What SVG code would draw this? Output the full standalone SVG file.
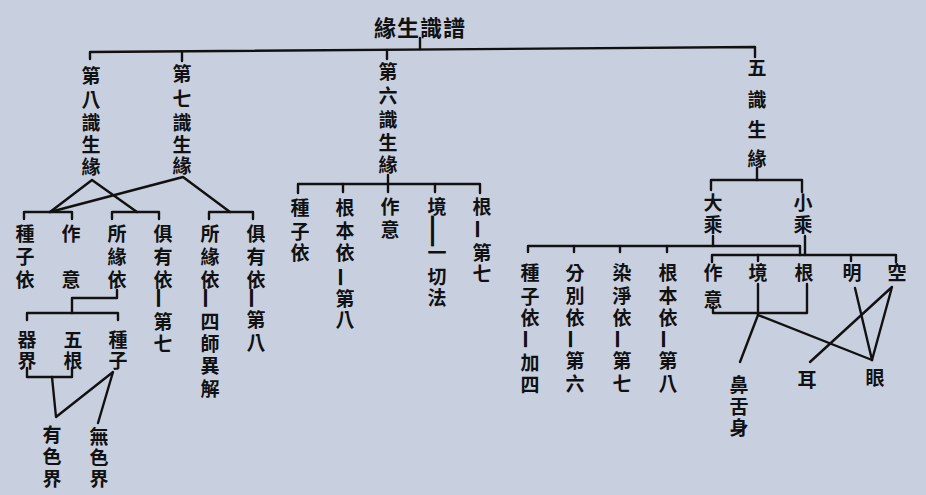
<svg xmlns="http://www.w3.org/2000/svg" width="926" height="495" viewBox="0 0 926 495">
<style>
text{font-family:"Noto Sans CJK TC","Noto Sans CJK SC",sans-serif;font-weight:700;fill:#111;}
.t{font-size:19px;text-anchor:middle;dominant-baseline:central;}
.title{font-size:22px;text-anchor:middle;dominant-baseline:central;letter-spacing:1px;}
.d{font-size:20px;text-anchor:middle;dominant-baseline:central;}
#connectors path{fill:none;stroke:#111;stroke-width:2.4;stroke-linejoin:round;stroke-linecap:round;}
</style>
<rect width="926" height="495" fill="#c8d0e0"/>
<g id="connectors">
<path d="M420 38 L420 49"/>
<path d="M90 59 L90 52 L755 47 L755 57"/>
<path d="M182 52 L182 61"/>
<path d="M387 50 L387 59"/>
<path d="M92 180 L50 212 M92 180 L137 212"/>
<path d="M183 177 L50 212 M183 177 L230 212"/>
<path d="M24 219 L24 212 L72 212 L72 219"/>
<path d="M112 219 L112 212 L159 212 L159 219"/>
<path d="M209 219 L209 212 L253 212 L253 219"/>
<path d="M117 290 L117 298 L72 298 L72 313"/>
<path d="M27 320 L27 313 L118 313 L118 320"/>
<path d="M27 368 L27 377 L72 377 L72 368"/>
<path d="M52 377 L56 417 L113 372 L98 423"/>
<path d="M388 175 L388 192"/>
<path d="M298 193 L298 184 L480 184 L480 193"/>
<path d="M343 184 L343 192 M435 184 L435 192"/>
<path d="M757 168 L757 180"/>
<path d="M711 190 L711 180 L802 180 L802 192"/>
<path d="M713 236 L713 246"/>
<path d="M528 252 L528 246 L800 246 L800 255"/>
<path d="M574 246 L574 252 M620 246 L620 252 M667 246 L667 252"/>
<path d="M805 236 L805 255"/>
<path d="M712 262 L712 255 L896 255 L896 262"/>
<path d="M758 255 L758 261 M851 255 L851 261"/>
<path d="M713 307 L713 313 L807 313 L807 284"/>
<path d="M758 284 L758 315"/>
<path d="M758 315 L740 362 M758 315 L872 360"/>
<path d="M855 288 L872 360"/>
<path d="M892 287 L810 362 M892 287 L872 360"/>
</g>
<g id="title"><text class="title" x="420" y="26">緣生識譜</text></g>
<g id="n8"><text class="t"><tspan x="91" y="74">第</tspan><tspan x="91" y="98">八</tspan><tspan x="91" y="121">識</tspan><tspan x="91" y="143">生</tspan><tspan x="91" y="165">緣</tspan></text></g>
<g id="n7"><text class="t"><tspan x="182" y="72">第</tspan><tspan x="182" y="97">七</tspan><tspan x="182" y="121">識</tspan><tspan x="182" y="143">生</tspan><tspan x="182" y="164">緣</tspan></text></g>
<g id="n6"><text class="t"><tspan x="388" y="70">第</tspan><tspan x="388" y="94">六</tspan><tspan x="388" y="118">識</tspan><tspan x="388" y="141">生</tspan><tspan x="388" y="163">緣</tspan></text></g>
<g id="n5"><text class="t"><tspan x="757" y="66">五</tspan><tspan x="757" y="98">識</tspan><tspan x="757" y="128">生</tspan><tspan x="757" y="157">緣</tspan></text></g>
<g id="a1"><text class="t"><tspan x="25" y="232">種</tspan><tspan x="25" y="255">子</tspan><tspan x="25" y="278">依</tspan></text></g>
<g id="a2"><text class="t"><tspan x="71" y="232">作</tspan><tspan x="71" y="278">意</tspan></text></g>
<g id="a3"><text class="t"><tspan x="117" y="232">所</tspan><tspan x="117" y="255">緣</tspan><tspan x="117" y="278">依</tspan></text></g>
<g id="a4"><text class="t"><tspan x="163" y="232">俱</tspan><tspan x="163" y="255">有</tspan><tspan x="163" y="278">依</tspan><tspan x="163" y="320">第</tspan><tspan x="163" y="342">七</tspan></text><text class="d" transform="translate(163,298) rotate(90) scale(1.1,1.6)">—</text></g>
<g id="a5"><text class="t"><tspan x="210" y="232">所</tspan><tspan x="210" y="255">緣</tspan><tspan x="210" y="278">依</tspan><tspan x="210" y="320">四</tspan><tspan x="210" y="342">師</tspan><tspan x="210" y="364">異</tspan><tspan x="210" y="387">解</tspan></text><text class="d" transform="translate(210,298) rotate(90) scale(1.1,1.6)">—</text></g>
<g id="a6"><text class="t"><tspan x="256" y="232">俱</tspan><tspan x="256" y="255">有</tspan><tspan x="256" y="278">依</tspan><tspan x="256" y="318">第</tspan><tspan x="256" y="341">八</tspan></text><text class="d" transform="translate(256,298) rotate(90) scale(1.1,1.6)">—</text></g>
<g id="b1"><text class="t"><tspan x="27" y="338">器</tspan><tspan x="27" y="359">界</tspan></text></g>
<g id="b2"><text class="t"><tspan x="73" y="338">五</tspan><tspan x="73" y="359">根</tspan></text></g>
<g id="b3"><text class="t"><tspan x="118" y="338">種</tspan><tspan x="118" y="359">子</tspan></text></g>
<g id="c1"><text class="t"><tspan x="52" y="433">有</tspan><tspan x="52" y="455">色</tspan><tspan x="52" y="477">界</tspan></text></g>
<g id="c2"><text class="t"><tspan x="99" y="435">無</tspan><tspan x="99" y="456">色</tspan><tspan x="99" y="477">界</tspan></text></g>
<g id="s1"><text class="t"><tspan x="300" y="206">種</tspan><tspan x="300" y="230">子</tspan><tspan x="300" y="251">依</tspan></text></g>
<g id="s2"><text class="t"><tspan x="345" y="206">根</tspan><tspan x="345" y="229">本</tspan><tspan x="345" y="251">依</tspan><tspan x="345" y="297">第</tspan><tspan x="345" y="318">八</tspan></text><text class="d" transform="translate(345,277) rotate(90) scale(1.0,1.6)">—</text></g>
<g id="s3"><text class="t"><tspan x="390" y="205">作</tspan><tspan x="390" y="228">意</tspan></text></g>
<g id="s4"><text class="t"><tspan x="437" y="205">境</tspan><tspan x="437" y="251">一</tspan><tspan x="437" y="275">切</tspan><tspan x="437" y="296">法</tspan></text><text class="d" transform="translate(437,231) rotate(90) scale(1.9,1.6)">—</text></g>
<g id="s5"><text class="t"><tspan x="482" y="205">根</tspan><tspan x="482" y="251">第</tspan><tspan x="482" y="272">七</tspan></text><text class="d" transform="translate(482,229) rotate(90) scale(1.0,1.6)">—</text></g>
<g id="m1"><text class="t"><tspan x="713" y="201">大</tspan><tspan x="713" y="223">乘</tspan></text></g>
<g id="m2"><text class="t"><tspan x="803" y="201">小</tspan><tspan x="803" y="223">乘</tspan></text></g>
<g id="f1"><text class="t"><tspan x="530" y="271">種</tspan><tspan x="530" y="295">子</tspan><tspan x="530" y="316">依</tspan><tspan x="530" y="361">加</tspan><tspan x="530" y="383">四</tspan></text><text class="d" transform="translate(530,339) rotate(90) scale(1.0,1.6)">—</text></g>
<g id="f2"><text class="t"><tspan x="575" y="271">分</tspan><tspan x="575" y="294">別</tspan><tspan x="575" y="316">依</tspan><tspan x="575" y="359">第</tspan><tspan x="575" y="382">六</tspan></text><text class="d" transform="translate(575,339) rotate(90) scale(1.0,1.6)">—</text></g>
<g id="f3"><text class="t"><tspan x="622" y="271">染</tspan><tspan x="622" y="294">淨</tspan><tspan x="622" y="316">依</tspan><tspan x="622" y="359">第</tspan><tspan x="622" y="382">七</tspan></text><text class="d" transform="translate(622,339) rotate(90) scale(1.0,1.6)">—</text></g>
<g id="f4"><text class="t"><tspan x="668" y="271">根</tspan><tspan x="668" y="294">本</tspan><tspan x="668" y="316">依</tspan><tspan x="668" y="359">第</tspan><tspan x="668" y="382">八</tspan></text><text class="d" transform="translate(668,339) rotate(90) scale(1.0,1.6)">—</text></g>
<g id="g1"><text class="t"><tspan x="713" y="271">作</tspan><tspan x="713" y="298">意</tspan></text></g>
<g id="g2"><text class="t" x="758" y="271">境</text></g>
<g id="g3"><text class="t" x="804" y="271">根</text></g>
<g id="g4"><text class="t" x="852" y="271">明</text></g>
<g id="g5"><text class="t" x="897" y="271">空</text></g>
<g id="h1"><text class="t"><tspan x="739" y="383">鼻</tspan><tspan x="739" y="405">舌</tspan><tspan x="739" y="426">身</tspan></text></g>
<g id="h2"><text class="t" x="807" y="378">耳</text></g>
<g id="h3"><text class="t" x="875" y="376">眼</text></g>
</svg>
